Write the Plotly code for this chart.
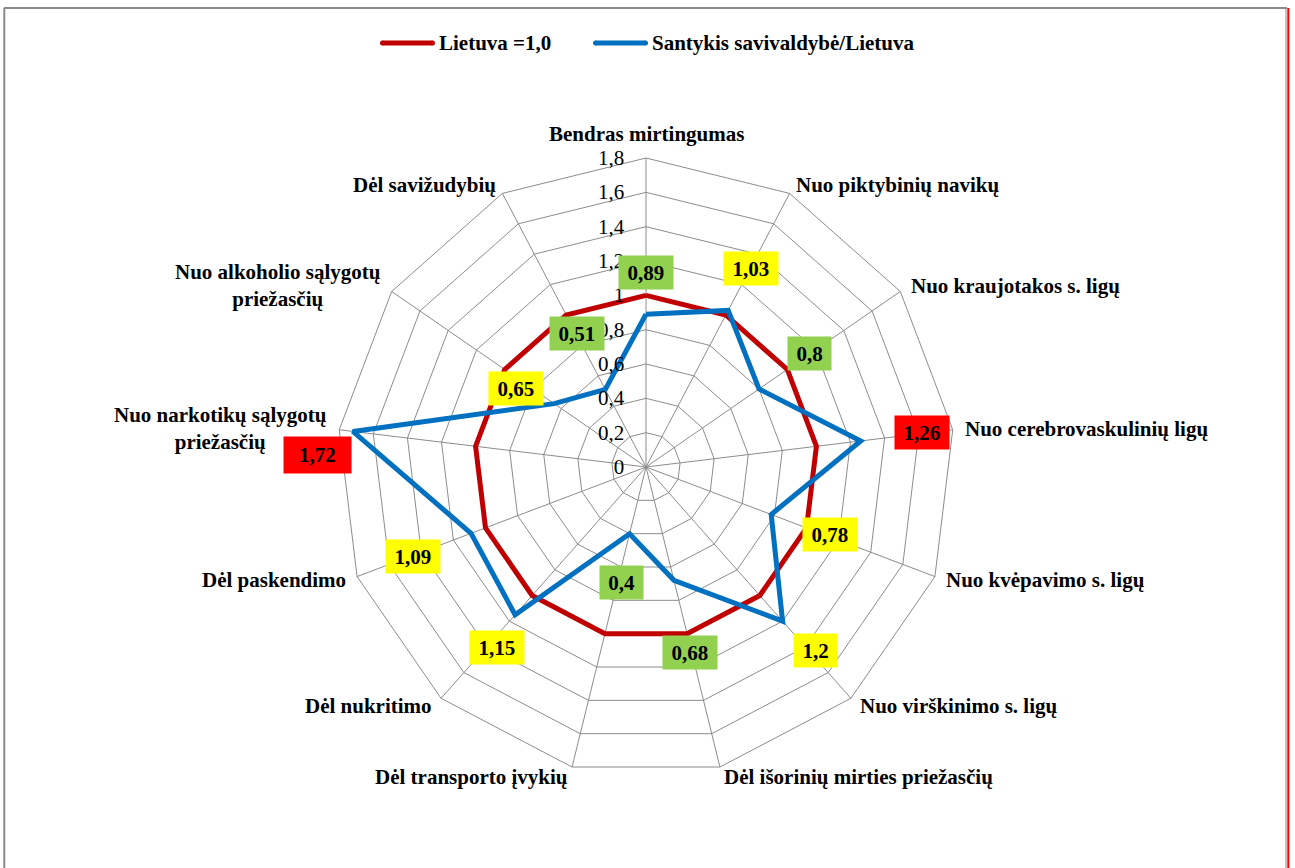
import math
import plotly.graph_objects as go

# ---------------- data ----------------
categories = [
    "Bendras mirtingumas",
    "Nuo piktybinių navikų",
    "Nuo kraujotakos s. ligų",
    "Nuo cerebrovaskulinių ligų",
    "Nuo kvėpavimo s. ligų",
    "Nuo virškinimo s. ligų",
    "Dėl išorinių mirties priežasčių",
    "Dėl transporto įvykių",
    "Dėl nukritimo",
    "Dėl paskendimo",
    "Nuo narkotikų sąlygotų priežasčių",
    "Nuo alkoholio sąlygotų priežasčių",
    "Dėl savižudybių",
]
lietuva = [1.0, 1.0, 1.0, 1.0, 1.0, 1.0, 1.0, 1.0, 1.0, 1.0, 1.0, 1.0, 1.0]
santykis = [0.89, 1.03, 0.8, 1.26, 0.78, 1.2, 0.68, 0.4, 1.15, 1.09, 1.72, 0.65, 0.51]
tick_values = [0, 0.2, 0.4, 0.6, 0.8, 1.0, 1.2, 1.4, 1.6, 1.8]
tick_labels = ["0", "0,2", "0,4", "0,6", "0,8", "1", "1,2", "1,4", "1,6", "1,8"]
series_names = ["Lietuva =1,0", "Santykis savivaldybė/Lietuva"]

# ---------------- style ----------------
RED = "#C00000"
BLUE = "#0070C0"
GRID = "#8C8C8C"
FONT = "Liberation Serif, Times New Roman, serif"
label_colors = ["#92D050", "#FFFF00", "#92D050", "#FF0000", "#FFFF00", "#FFFF00",
                "#92D050", "#92D050", "#FFFF00", "#FFFF00", "#FF0000", "#FFFF00", "#92D050"]
# manual label offsets (pixels, relative to the data point; dy positive = down)
label_offsets = [(0, -42), (23, -42), (50, -35), (61, -8), (59, 20), (33, 29),
                 (16, 72), (-8, 49), (-18, 33), (-58, 23), (-35, 24), (-38, -15), (-28, -56)]
label_extra_width = {10: 13}

W, H = 1295, 868
CX, CY, R = 646, 467, 309
RMAX = tick_values[-1]
N = len(categories)

dom_x = [(CX - R) / W, (CX + R) / W]
dom_y = [1 - (CY + R) / H, 1 - (CY - R) / H]


def polar_px(i, v):
    ang = 2 * math.pi * i / N
    r = v / RMAX * R
    return CX + r * math.sin(ang), CY - r * math.cos(ang)


def px2paper(x, y):
    return x / W, 1 - y / H


fig = go.Figure()
theta_closed = categories + [categories[0]]
colors = [RED, BLUE]
for name, vals, col in zip(series_names, [lietuva, santykis], colors):
    fig.add_trace(go.Scatterpolar(
        r=vals + [vals[0]], theta=theta_closed, mode="lines",
        line=dict(color=col, width=5), name=name, hoverinfo="skip",
        showlegend=False))

annotations = []
shapes = []

# data labels
for i, v in enumerate(santykis):
    txt = str(v).replace(".", ",")
    px, py = polar_px(i, v)
    dx, dy = label_offsets[i]
    ndig = sum(ch.isdigit() for ch in txt)
    tw = 21 * (0.5 * ndig + 0.25) + 9 + label_extra_width.get(i, 0)
    xp, yp = px2paper(px, py)
    annotations.append(dict(
        x=xp, y=yp, xref="paper", yref="paper",
        xshift=dx, yshift=-dy, text=txt, showarrow=False,
        font=dict(family=FONT, size=21, color="black", weight="bold"),
        bgcolor=label_colors[i], width=tw, height=25 + (3 if i in label_extra_width else 0),
        borderpad=4, xanchor="center", yanchor="middle", align="center"))

# category labels
d = 10
for i, name in enumerate(categories):
    ang = 2 * math.pi * i / N
    s, c = math.sin(ang), math.cos(ang)
    x = CX + (R + d) * s
    y = CY - (R + d) * c
    if s > 0.05:
        xa, ya = "left", "middle"
    elif s < -0.05:
        xa, ya = "right", "middle"
    else:
        xa, ya = "center", "bottom"
    text = name.replace(" sąlygotų priežasčių", " sąlygotų<br>priežasčių")
    xp, yp = px2paper(x, y)
    annotations.append(dict(
        x=xp, y=yp, xref="paper", yref="paper", text=text,
        showarrow=False, xanchor=xa, yanchor=ya, align="center",
        font=dict(family=FONT, size=21, color="black", weight="bold")))

# custom legend (long line samples with rounded ends, as in the original)
legend_y = 43
legend_items_x = [380, 593]   # left end of each line sample
for name, col, lx in zip(series_names, colors, legend_items_x):
    x0, y0 = px2paper(lx + 2.5, legend_y)
    x1, _ = px2paper(lx + 52.5, legend_y)
    shapes.append(dict(type="line", xref="paper", yref="paper", x0=x0, x1=x1,
                       y0=y0, y1=y0, line=dict(color=col, width=5)))
    for ex in (lx + 2.5, lx + 52.5):
        shapes.append(dict(type="circle", xref="paper", yref="paper",
                           x0=(ex - 2.5) / W, x1=(ex + 2.5) / W,
                           y0=1 - (legend_y + 2.5) / H, y1=1 - (legend_y - 2.5) / H,
                           fillcolor=col, line=dict(width=0)))
    tx, _ = px2paper(lx + 57, legend_y)
    annotations.append(dict(
        x=tx, y=y0, xref="paper", yref="paper", text=name, showarrow=False,
        xanchor="left", yanchor="middle",
        font=dict(family=FONT, size=21, color="black", weight="bold")))

# outer frame
shapes += [
    dict(type="line", xref="paper", yref="paper", x0=4 / W, x1=1287 / W,
         y0=1 - 8 / H, y1=1 - 8 / H, line=dict(color="#8A8A8A", width=2)),
    dict(type="line", xref="paper", yref="paper", x0=4.3 / W, x1=4.3 / W,
         y0=0, y1=1 - 8 / H, line=dict(color="#8A8A8A", width=2)),
    dict(type="line", xref="paper", yref="paper", x0=1286 / W, x1=1286 / W,
         y0=0, y1=1 - 8 / H, line=dict(color="#8A8A8A", width=1)),
    dict(type="line", xref="paper", yref="paper", x0=1288.3 / W, x1=1288.3 / W,
         y0=0, y1=1 - 8 / H, line=dict(color="#FF0000", width=2)),
]

fig.update_layout(
    width=W, height=H,
    margin=dict(l=0, r=0, t=0, b=0),
    paper_bgcolor="white",
    separators=", ",
    showlegend=False,
    polar=dict(
        domain=dict(x=dom_x, y=dom_y),
        bgcolor="white",
        gridshape="linear",
        angularaxis=dict(rotation=90, direction="clockwise", showticklabels=False,
                         ticks="", gridcolor=GRID, gridwidth=1, linecolor=GRID,
                         linewidth=1, showline=True),
        radialaxis=dict(range=[0, RMAX], tickvals=tick_values, ticktext=tick_labels,
                        angle=90, side="counterclockwise", showline=False,
                        gridcolor=GRID, gridwidth=1, ticks="outside", ticklen=14,
                        tickcolor="rgba(0,0,0,0)", tickangle=90,
                        tickfont=dict(family=FONT, size=21, color="black")),
    ),
    annotations=annotations,
    shapes=shapes,
)

fig.write_html("out.html", config={"displayModeBar": False},
               post_script="document.body.style.margin='0';")
